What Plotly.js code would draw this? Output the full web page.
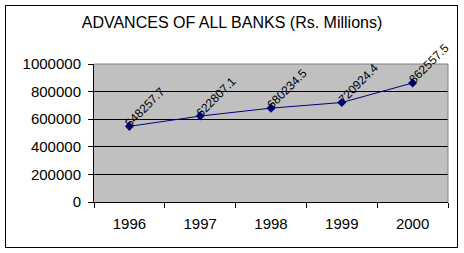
<!DOCTYPE html>
<html><head><meta charset="utf-8">
<script src="https://cdn.plot.ly/plotly-3.0.1.min.js"></script>
<style>
html,body{margin:0;padding:0;background:#fff;}
#wrap{position:relative;width:464px;height:253px;}
#chart{position:absolute;left:0;top:0;width:464px;height:253px;}
#frame{position:absolute;left:5px;top:5px;width:451px;height:241px;border:1px solid #000;pointer-events:none;}
</style></head>
<body><div id="wrap"><div id="chart"></div><div id="frame"></div></div>
<script>
const years = ['1996','1997','1998','1999','2000'];
const advances = [548257.7, 622807.1, 680234.5, 720924.4, 862557.5];
const labels = ['548257.7','622807.1','680234.5','720924.4','862557.5'];
const yTicks = [0, 200000, 400000, 600000, 800000, 1000000];
const titleText = 'ADVANCES OF ALL BANKS (Rs. Millions)';

const font = 'Liberation Sans, Arial, sans-serif';
const trace = {
  x: years, y: advances, type: 'scatter', mode: 'lines+markers',
  line: {color: '#000080', width: 1},
  marker: {symbol: 'diamond', size: 7, color: '#000080'},
  hoverinfo: 'skip', cliponaxis: false
};
const annotations = years.map((yr, i) => ({
  x: i, y: advances[i], xref: 'x', yref: 'y', text: labels[i],
  showarrow: false, textangle: -45, xshift: 16, yshift: 19,
  font: {family: font, size: 12, color: '#000'}
}));
const layout = {
  width: 464, height: 253,
  margin: {l: 94, r: 16, t: 64, b: 51, pad: 0},
  paper_bgcolor: '#fff', plot_bgcolor: '#C0C0C0',
  showlegend: false,
  title: {text: titleText, font: {family: font, size: 16, color: '#000'}, x: 0.5, xanchor: 'center', y: 1 - 22/253, yanchor: 'middle'},
  xaxis: {type: 'category', tickson: 'boundaries', ticks: 'outside', ticklen: 5, tickcolor: '#000',
    showline: true, linecolor: '#000', linewidth: 1, showgrid: false, zeroline: false,
    tickfont: {family: font, size: 15, color: '#000'}, ticklabelstandoff: 8, range: [-0.5, 4.5], fixedrange: true},
  yaxis: {range: [0, 1000000], tickvals: yTicks, ticktext: yTicks.map(String), ticks: 'outside', ticklen: 5,
    tickcolor: '#000', showline: true, linecolor: '#000', linewidth: 1, showgrid: true, gridcolor: '#000', gridwidth: 1,
    zeroline: false, tickfont: {family: font, size: 15, color: '#000'}, ticklabelstandoff: 4, fixedrange: true},
  shapes: [{type: 'path', xref: 'paper', yref: 'paper', path: 'M0,1 L1,1 L1,0', line: {color: '#808080', width: 1}, layer: 'above'}],
  annotations: annotations
};
Plotly.newPlot('chart', [trace], layout, {displayModeBar: false});
</script></body></html>
